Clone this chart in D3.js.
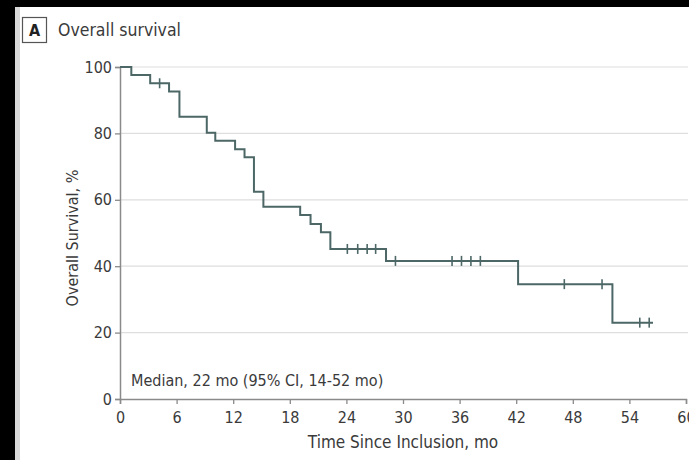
<!DOCTYPE html>
<html lang="en">
<head>
    <meta charset="UTF-8">
    <title>Overall survival</title>
    <script src="https://cdn.jsdelivr.net/npm/d3@7"></script>
    <style>
        body {
            margin: 0;
            padding: 0;
            background: #000;
        }
        svg text {
            font-family: "Liberation Sans Narrow", "DejaVu Sans Condensed", "Roboto", sans-serif;
            fill: #3a3a3a;
        }
    </style>
</head>
<body>
<svg id="chart" width="689" height="460"></svg>

<script>
    // Kaplan-Meier steps
    var stepTimes = [0, 1.2, 3.2, 5.2, 6.3, 9.2, 10.1, 12.2, 13.2, 14.2, 15.2, 19.1, 20.2, 21.3, 22.3, 28.2, 42.2, 52.2, 56.5];
    var stepSurvival = [100, 97.6, 95.1, 92.6, 85.0, 80.2, 77.8, 75.2, 72.8, 62.4, 57.9, 55.4, 52.7, 50.2, 45.2, 41.6, 34.6, 23.0, 23.0];
    var censorTimes = [4.2, 24.1, 25.2, 26.2, 27.1, 29.2, 35.2, 36.2, 37.2, 38.2, 47.1, 51.1, 55.1, 56.1];
    var xTicks = [0, 6, 12, 18, 24, 30, 36, 42, 48, 54, 60];
    var yTicks = [0, 20, 40, 60, 80, 100];

    var svg = d3.select("#chart");

    // page background: grey strip then white panel
    svg.append("rect").attr("x", 15).attr("y", 7).attr("width", 674).attr("height", 453).attr("fill", "#d9d9d9");
    svg.append("rect").attr("x", 20).attr("y", 7).attr("width", 669).attr("height", 453).attr("fill", "#fff");

    var x = d3.scaleLinear().domain([0, 60]).range([120, 686]);
    var y = d3.scaleLinear().domain([0, 100]).range([399, 67]);

    // panel label
    svg.append("rect")
        .attr("x", 22.5).attr("y", 17.5).attr("width", 24).attr("height", 25)
        .attr("fill", "#fff").attr("stroke", "#555").attr("stroke-width", 1.2);
    svg.append("text")
        .attr("x", 34.5).attr("y", 36)
        .attr("text-anchor", "middle")
        .style("font-size", "16px").style("font-weight", "bold")
        .style("fill", "#222")
        .text("A");
    svg.append("text")
        .attr("x", 58).attr("y", 36)
        .style("font-size", "17.5px")
        .text("Overall survival");

    // grid lines
    svg.append("g").selectAll("line")
        .data(yTicks.filter(function(d) { return d > 0; }))
        .enter().append("line")
        .attr("x1", x(0)).attr("x2", 688)
        .attr("y1", function(d) { return y(d); })
        .attr("y2", function(d) { return y(d); })
        .attr("stroke", "#dedede").attr("stroke-width", 1.2);

    // axes
    var xAxis = svg.append("g")
        .attr("transform", "translate(0," + y(0) + ")")
        .call(d3.axisBottom(x).tickValues(xTicks).tickSize(5).tickPadding(5));
    var yAxis = svg.append("g")
        .attr("transform", "translate(" + x(0) + ",0)")
        .call(d3.axisLeft(y).tickValues(yTicks).tickSize(5).tickPadding(3));

    [xAxis, yAxis].forEach(function(a) {
        a.select(".domain").attr("stroke", "#8a8a8a").attr("stroke-width", 1.5);
        a.selectAll(".tick line").attr("stroke", "#8a8a8a").attr("stroke-width", 1.3);
        a.selectAll("text").style("font-size", "16px").style("fill", "#3a3a3a");
    });
    xAxis.selectAll("text").attr("dy", "0.9em");

    // axis titles
    svg.append("text")
        .attr("x", (x(0) + x(60)) / 2).attr("y", 448)
        .attr("text-anchor", "middle")
        .style("font-size", "17px")
        .text("Time Since Inclusion, mo");
    svg.append("text")
        .attr("transform", "translate(78," + ((y(0) + y(100)) / 2 + 5) + ") rotate(-90)")
        .attr("text-anchor", "middle")
        .style("font-size", "16px")
        .text("Overall Survival, %");

    // survival curve
    var points = stepTimes.map(function(t, i) { return [t, stepSurvival[i]]; });
    var line = d3.line()
        .x(function(d) { return x(d[0]); })
        .y(function(d) { return y(d[1]); })
        .curve(d3.curveStepAfter);

    var lineColor = "#4d6767";
    svg.append("path")
        .datum(points)
        .attr("fill", "none")
        .attr("stroke", lineColor)
        .attr("stroke-width", 2)
        .attr("d", line);

    // censor marks
    function survivalAt(t) {
        var v = stepSurvival[0];
        for (var i = 0; i < stepTimes.length; i++) {
            if (stepTimes[i] <= t) v = stepSurvival[i];
        }
        return v;
    }
    svg.append("g").selectAll("line")
        .data(censorTimes)
        .enter().append("line")
        .attr("x1", function(d) { return x(d); })
        .attr("x2", function(d) { return x(d); })
        .attr("y1", function(d) { return y(survivalAt(d)) - 5; })
        .attr("y2", function(d) { return y(survivalAt(d)) + 5; })
        .attr("stroke", lineColor)
        .attr("stroke-width", 1.6);

    // median annotation
    svg.append("text")
        .attr("x", 131).attr("y", 386)
        .style("font-size", "16px")
        .text("Median, 22 mo (95% CI, 14-52 mo)");
</script>
</body>
</html>
